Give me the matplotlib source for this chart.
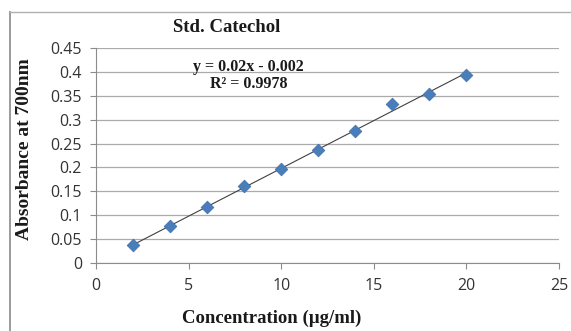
import numpy as np
import matplotlib.pyplot as plt
from matplotlib.lines import Line2D

conc = [2, 4, 6, 8, 10, 12, 14, 16, 18, 20]
absorb = [0.037, 0.077, 0.117, 0.161, 0.197, 0.237, 0.277, 0.333, 0.353, 0.393]
slope, intercept = 0.02, -0.002
xticks = [0, 5, 10, 15, 20, 25]
yticks = [0, 0.05, 0.1, 0.15, 0.2, 0.25, 0.3, 0.35, 0.4, 0.45]
ytick_labels = ['0', '0.05', '0.1', '0.15', '0.2', '0.25', '0.3', '0.35', '0.4', '0.45']

fig = plt.figure(figsize=(5.71, 3.31), dpi=100)
# outer chart frame (only left and top edges are inside the crop)
bx, by = 9.5 / 571, 1 - 11.5 / 331
fig.add_artist(Line2D([bx, bx], [0, by], transform=fig.transFigure,
                      color='#8a8a8a', lw=1.2))
fig.add_artist(Line2D([bx, 1], [by, by], transform=fig.transFigure,
                      color='#b0b0b0', lw=1.0))

ax = fig.add_axes([96 / 571, 1 - 263 / 331, 463 / 571, 215 / 331])

fit_x = np.array([conc[0], conc[-1]])
ax.plot(fit_x, slope * fit_x + intercept, color='#404040', lw=0.8, zorder=3)
ax.scatter(conc, absorb, marker='D', s=42, color='#4a7ebb', zorder=4,
           edgecolors='#3d6fa8', linewidths=0.5)

ax.set_xlim(0, 25)
ax.set_ylim(0, 0.45)
ax.set_xticks(xticks)
ax.set_yticks(yticks)
ax.set_yticklabels(ytick_labels)
ax.grid(axis='y', color='#ababab', lw=0.9)
ax.set_axisbelow(True)
for s in ['top', 'right']:
    ax.spines[s].set_visible(False)
for s in ['left', 'bottom']:
    ax.spines[s].set_color('#8c8c8c')
ax.tick_params(colors='#8c8c8c', labelcolor='#333333', labelsize=11.5,
               length=4, width=0.8)
ax.tick_params(axis='x', pad=7)
ax.tick_params(axis='y', pad=6)
for lab in ax.get_xticklabels() + ax.get_yticklabels():
    lab.set_family('Open Sans')

serif = dict(family='Liberation Serif', weight='bold', color='#1a1a1a')
fig.text(227 / 571, 1 - 27 / 331, 'Std. Catechol', ha='center', va='center',
         fontsize=13.5, **serif)
ax.text(248 / 571, 1 - 67 / 331, 'y = 0.02x - 0.002', transform=fig.transFigure,
        ha='center', va='center', fontsize=11.5, **serif)
ax.text(249 / 571, 1 - 84 / 331, 'R² = 0.9978', transform=fig.transFigure,
        ha='center', va='center', fontsize=11.5, **serif)
fig.text(25 / 571, 1 - 149 / 331, 'Absorbance at 700nm', rotation=90,
         ha='center', va='center', fontsize=14, **serif)
fig.text(272 / 571, 1 - 318 / 331, 'Concentration (µg/ml)', ha='center',
         va='center', fontsize=13.5, **serif)

fig.savefig('out.png', dpi=100)
